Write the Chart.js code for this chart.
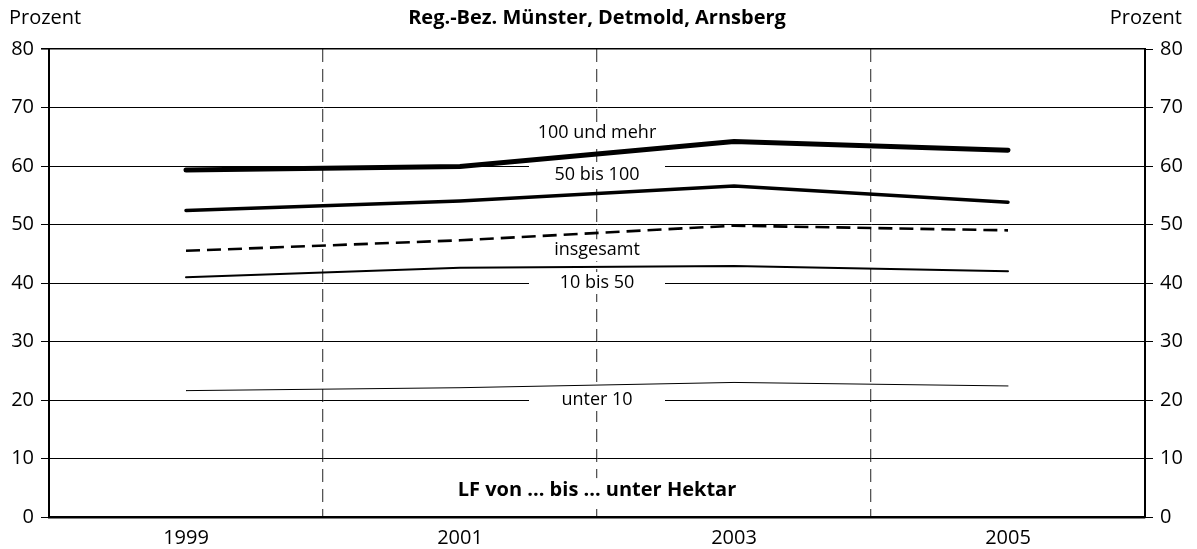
<!DOCTYPE html>
<html>
<head>
<meta charset="utf-8">
<script src="https://cdn.jsdelivr.net/npm/chart.js@4/dist/chart.umd.min.js"></script>
<style>
  body { margin: 0; background: #fff; }
  #wrap { width: 1197px; height: 549px; }
</style>
</head>
<body>
<div id="wrap"><canvas id="myChart" width="1197" height="549"></canvas></div>
<script>
  // data (percent)

  var years = [1999, 2001, 2003, 2005];
  var ha100plus = [59.3, 59.9, 64.2, 62.7];
  var ha50to100 = [52.4, 54.0, 56.6, 53.8];
  var haTotal = [45.5, 47.3, 49.8, 49.0];
  var ha10to50 = [41.0, 42.6, 42.9, 42.0];
  var haUnder10 = [21.6, 22.1, 23.0, 22.4];

  var seriesNames = ["100 und mehr", "50 bis 100", "insgesamt", "10 bis 50", "unter 10"];
  var yMax = 80;
  var yStep = 10;

  var fontName = '"Open Sans", "DejaVu Sans", sans-serif';

  function points(values) {
    return values.map(function (v, i) { return { x: years[i], y: v }; });
  }

  // line styles: thickest for the biggest farms
  var datasets = [
    { label: seriesNames[0], data: points(ha100plus), borderWidth: 5 },
    { label: seriesNames[1], data: points(ha50to100), borderWidth: 3.5 },
    { label: seriesNames[2], data: points(haTotal), borderWidth: 2.6, borderDash: [14, 7], borderCapStyle: 'butt' },
    { label: seriesNames[3], data: points(ha10to50), borderWidth: 2 },
    { label: seriesNames[4], data: points(haUnder10), borderWidth: 1 }
  ];
  datasets.forEach(function (d) {
    d.borderColor = '#000';
    d.backgroundColor = '#000';
    d.pointRadius = 0;
    d.tension = 0;
    if (!d.borderCapStyle) d.borderCapStyle = 'round';
  });

  // where the series names sit (y in percent, x at 2002)
  var labelSpots = [
    { text: seriesNames[0], y: 65.6 },
    { text: seriesNames[1], y: 58.5 },
    { text: seriesNames[2], y: 45.6 },
    { text: seriesNames[3], y: 40 },
    { text: seriesNames[4], y: 20 }
  ];

  var labelPlugin = {
    id: 'lineLabels',
    beforeDatasetsDraw: function (chart) {
      var ctx = chart.ctx;
      var xs = chart.scales.x, ys = chart.scales.y;
      var cx = xs.getPixelForValue(2002);
      ctx.save();
      ctx.textAlign = 'center';
      ctx.textBaseline = 'middle';
      ctx.font = '18px ' + fontName;
      labelSpots.forEach(function (l) {
        var py = ys.getPixelForValue(l.y);
        ctx.fillStyle = '#fff';
        ctx.fillRect(cx - 68, py - 11, 136, 22);
        ctx.fillStyle = '#000';
        ctx.fillText(l.text, cx, py);
      });
      // footnote inside the plot
      ctx.font = 'bold 20px ' + fontName;
      var note = 'LF von ... bis ... unter Hektar';
      var ny = ys.getPixelForValue(4.6);
      var w = ctx.measureText(note).width;
      ctx.fillStyle = '#fff';
      ctx.fillRect(cx - w / 2 - 4, ny - 12, w + 8, 24);
      ctx.fillStyle = '#000';
      ctx.fillText(note, cx, ny);
      ctx.restore();
    },
    afterDraw: function (chart) {
      var ctx = chart.ctx;
      var area = chart.chartArea;
      ctx.save();
      ctx.fillStyle = '#000';
      ctx.textBaseline = 'middle';
      ctx.font = '20px ' + fontName;
      ctx.textAlign = 'left';
      ctx.fillText('Prozent', 9, 18);
      ctx.textAlign = 'right';
      ctx.fillText('Prozent', 1182, 18);
      ctx.font = 'bold 20px ' + fontName;
      ctx.textAlign = 'center';
      ctx.fillText('Reg.-Bez. Münster, Detmold, Arnsberg', (area.left + area.right) / 2, 18);
      ctx.restore();
    }
  };

  var dashedYears = [2000, 2002, 2004];

  var config = {
    type: 'line',
    data: { datasets: datasets },
    options: {
      responsive: false,
      animation: false,
      layout: { padding: { top: 49, left: 0, right: 0, bottom: 0 } },
      plugins: { legend: { display: false }, tooltip: { enabled: false } },
      scales: {
        x: {
          type: 'linear',
          min: 1998,
          max: 2006,
          afterFit: function (s) { s.height = 32; },
          ticks: {
            stepSize: 1,
            autoSkip: false,
            maxRotation: 0,
            padding: 9,
            color: '#000',
            font: { family: fontName, size: 20 },
            callback: function (v) { return v % 2 === 1 ? String(v) : ''; }
          },
          grid: {
            drawTicks: false,
            lineWidth: 1.3,
            color: function (c) {
              var v = c.tick && c.tick.value;
              return dashedYears.indexOf(v) >= 0 ? '#555' : 'rgba(0,0,0,0)';
            }
          },
          border: { color: '#000', width: 2.5, dash: [13, 7] }
        },
        y: {
          min: 0,
          max: yMax,
          afterFit: function (s) { s.width = 49; },
          ticks: {
            stepSize: yStep,
            padding: 7,
            color: '#000',
            font: { family: fontName, size: 20 }
          },
          grid: {
            color: '#000',
            tickColor: '#000',
            tickLength: 8,
            lineWidth: function (c) { return c.tick && c.tick.value === yMax ? 1.6 : 1; }
          },
          border: { color: '#000', width: 2 }
        },
        y2: {
          position: 'right',
          min: 0,
          max: yMax,
          afterFit: function (s) { s.width = 52; },
          ticks: {
            stepSize: yStep,
            padding: 7,
            color: '#000',
            font: { family: fontName, size: 20 }
          },
          grid: {
            drawOnChartArea: false,
            tickColor: '#000',
            tickLength: 8,
            lineWidth: 1
          },
          border: { color: '#000', width: 2 }
        }
      }
    },
    plugins: [labelPlugin]
  };

  var myChart = new Chart(document.getElementById('myChart'), config);
</script>
</body>
</html>
